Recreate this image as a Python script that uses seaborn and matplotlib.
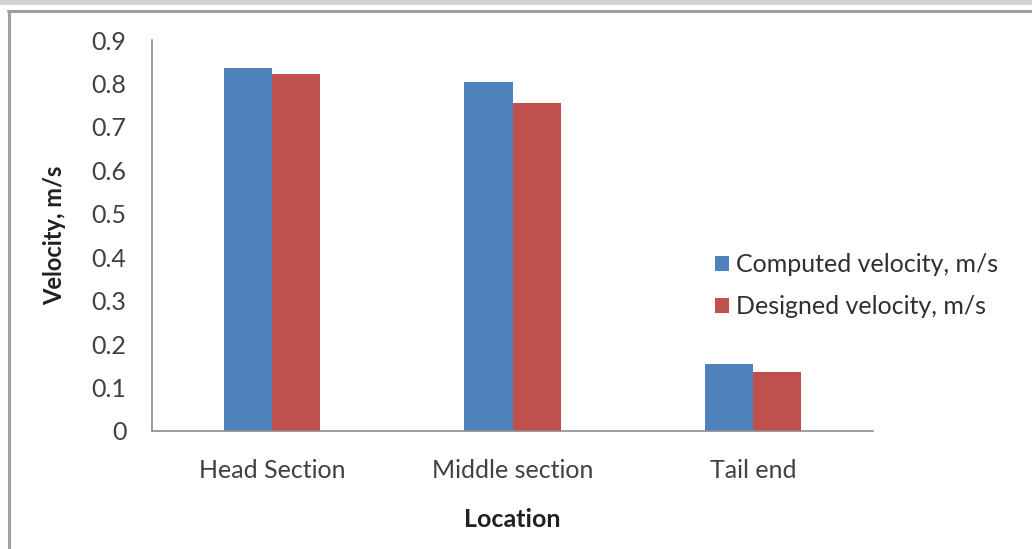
import matplotlib
matplotlib.use("Agg")
import matplotlib.pyplot as plt
import seaborn as sns
import pandas as pd
from matplotlib.patches import Rectangle
from matplotlib.lines import Line2D

locations = ["Head Section", "Middle section", "Tail end"]
computed = [0.835, 0.803, 0.155]
designed = [0.821, 0.754, 0.136]
series_names = ["Computed velocity, m/s", "Designed velocity, m/s"]
y_ticks = [0, 0.1, 0.2, 0.3, 0.4, 0.5, 0.6, 0.7, 0.8, 0.9]
y_tick_labels = ["0", "0.1", "0.2", "0.3", "0.4", "0.5", "0.6", "0.7", "0.8", "0.9"]

df = pd.DataFrame({
    "Location": locations * 2,
    "Velocity": computed + designed,
    "Series": [series_names[0]] * 3 + [series_names[1]] * 3,
})

sns.set_theme(style="white")
plt.rcParams["font.family"] = ["Lato", "DejaVu Sans"]

W, H = 1032, 549
fig = plt.figure(figsize=(W / 100, H / 100), dpi=100)
ax = fig.add_axes([152 / W, 1 - 431 / H, (873 - 152) / W, (431 - 40) / H])

sns.barplot(data=df, x="Location", y="Velocity", hue="Series",
            palette=["#4F81BD", "#C0504D"], width=0.4, saturation=1,
            edgecolor="none", ax=ax)

ax.set_xlim(-0.5, 2.5)
ax.set_ylim(0, 0.9)
ax.set_yticks(y_ticks)
ax.set_yticklabels(y_tick_labels)
ax.tick_params(axis="y", length=6.5, width=1, color="#8a8a8a", direction="out",
               labelsize=18, labelcolor="#404040", pad=12)
ax.tick_params(axis="x", length=0, labelsize=18, labelcolor="#404040", pad=20)

for side in ("top", "right"):
    ax.spines[side].set_visible(False)
for side in ("left", "bottom"):
    ax.spines[side].set_color("#8a8a8a")
    ax.spines[side].set_linewidth(1.2)

ax.set_ylabel("Velocity, m/s", fontsize=17, fontweight="bold", color="#202020", labelpad=18)
ax.set_xlabel("Location", fontsize=18, fontweight="bold", color="#202020", labelpad=19)

leg = ax.legend(loc="center left", bbox_to_anchor=(0.767, 0.372), frameon=False,
                fontsize=18, handlelength=0.55, handleheight=0.55, handletextpad=0.3,
                labelspacing=0.75, borderaxespad=0)
for t in leg.get_texts():
    t.set_color("#303030")

# page decorations around the chart
fig.patches.append(Rectangle((0, 1 - 5 / H), 1, 5 / H, transform=fig.transFigure,
                             facecolor="#d3d3d3", edgecolor="none"))
fig.lines.append(Line2D([9 / W, 9 / W], [0, 1 - 11 / H], transform=fig.transFigure,
                        color="#a0a0a0", lw=2.2))
fig.lines.append(Line2D([8 / W, 1], [1 - 11 / H, 1 - 11 / H], transform=fig.transFigure,
                        color="#a0a0a0", lw=2.2))

fig.savefig("out.png", dpi=100)
